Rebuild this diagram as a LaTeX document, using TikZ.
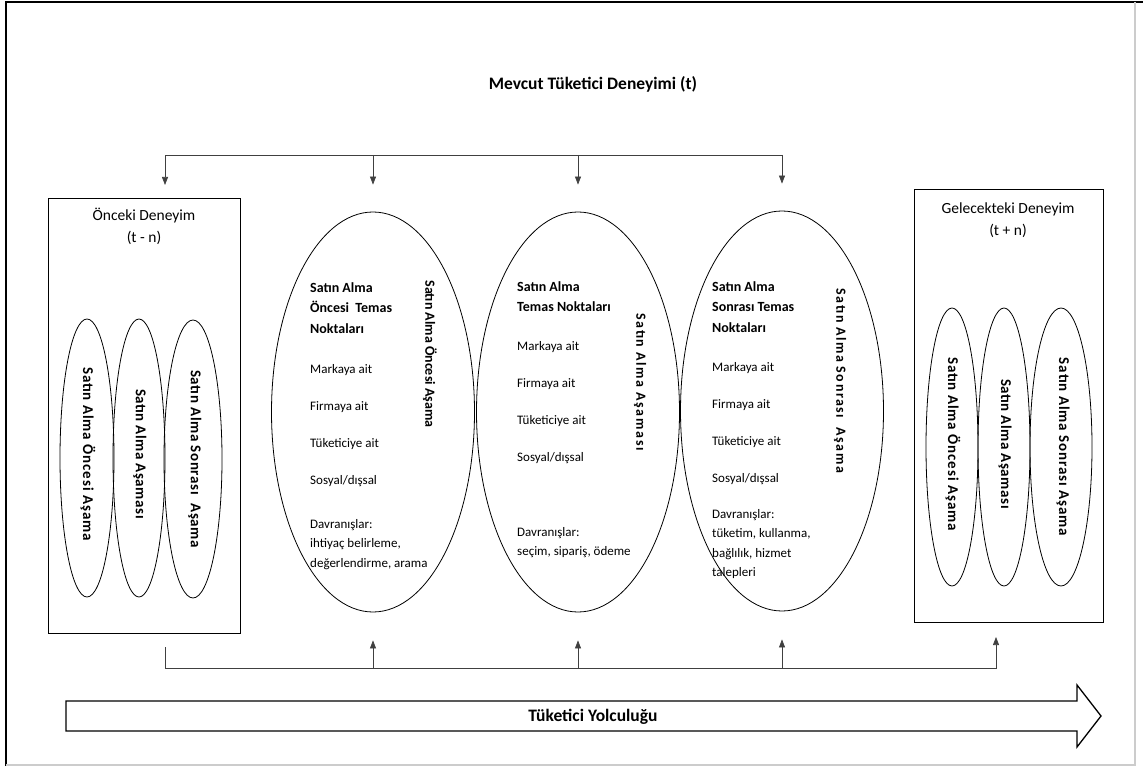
\documentclass[tikz,border=0pt]{standalone}
\usepackage{fontspec}
\setmainfont{Carlito}
\usetikzlibrary{shapes, arrows.meta}

\begin{document}
\begin{tikzpicture}[x=1pt,y=-1pt,
    el/.style={draw, ellipse, line width=0.8pt, inner sep=0pt},
    big/.style={el, minimum width=203pt, minimum height=400pt},
    sm/.style={el, minimum height=278pt},
    bx/.style={draw, line width=1.1pt, anchor=north west, inner sep=0pt},
    bt/.style={font=\fontsize{15.5}{22}\selectfont, align=center},
    tt/.style={font=\fontsize{17.5}{20}\selectfont\bfseries, inner sep=0pt},
    hd/.style={font=\fontsize{14}{20.5}\selectfont\bfseries, align=left, anchor=north west, inner sep=0pt},
    ls/.style={font=\fontsize{13}{37}\selectfont, align=left, anchor=north west, inner sep=0pt},
    bh/.style={font=\fontsize{13}{19.5}\selectfont, align=left, anchor=north west, inner sep=0pt},
    vt/.style={font=\fontsize{14}{16}\selectfont\bfseries, rotate=-90, inner sep=0pt},
    vs/.style={vt, font=\fontsize{15}{16}\selectfont\bfseries},
    ar/.style={-{Triangle[width=6pt,length=8pt]}, line width=0.7pt, black!75}]
    \useasboundingbox (0,0) rectangle (1143,767);
    \draw[line width=2pt] (6,766) -- (6,2) -- (1143,2);
    \draw[black!20, line width=1.5pt] (1135,2) -- (1135,765) -- (6,765);

    \node[tt] (ttl) at (593,84) {Mevcut Tüketici Deneyimi (t)};

    \node[bx, minimum width=192pt, minimum height=435pt] (pre) at (48,198) {};
    \node[bt] (pret) at (144,226) {Önceki Deneyim\\(t - n)};
    \node[sm, minimum width=54pt] (p1) at (87,458) {};
    \node[sm, minimum width=52pt] (p2) at (139,458) {};
    \node[sm, minimum width=58pt] (p3) at (193,459) {};
    \node[vs] (p1t) at (88,454) {\addfontfeatures{LetterSpace=6}Satın Alma Öncesi Aşama};
    \node[vs] (p2t) at (140,454) {\addfontfeatures{LetterSpace=3.5}Satın Alma Aşaması};
    \node[vs] (p3t) at (195,459) {\addfontfeatures{LetterSpace=4.5}Satın Alma Sonrası\ \ Aşama};

    \node[bx, minimum width=189pt, minimum height=433pt] (fut) at (914,189) {};
    \node[bt] (futt) at (1008,220) {Gelecekteki Deneyim\\(t + n)};
    \node[sm, minimum width=52pt] (f1) at (952,447) {};
    \node[sm, minimum width=52pt] (f2) at (1004,447) {};
    \node[sm, minimum width=62pt] (f3) at (1061,447) {};
    \node[vs] (f1t) at (953,444) {\addfontfeatures{LetterSpace=6}Satın Alma Öncesi Aşama};
    \node[vs] (f2t) at (1005,444) {\addfontfeatures{LetterSpace=3.5}Satın Alma Aşaması};
    \node[vs] (f3t) at (1063,447) {\addfontfeatures{LetterSpace=6}Satın Alma Sonrası Aşama};

    \node[big] (e1) at (373,412) {};
    \node[big] (e2) at (578,412) {};
    \node[big] (e3) at (782,411) {};

    \node[hd] (e1h) at (310,282) {Satın Alma\\Öncesi\ \ Temas\\Noktaları};
    \node[ls] (e1l) at (310,364) {Markaya ait\\Firmaya ait\\Tüketiciye ait\\Sosyal/dışsal};
    \node[bh] (e1b) at (310,519) {Davranışlar:\\ihtiyaç belirleme,\\değerlendirme, arama};
    \node[vt] (e1v) at (430,354) {Satın Alma Öncesi Aşama};

    \node[hd] (e2h) at (517,281) {Satın Alma\\Temas Noktaları};
    \node[ls] (e2l) at (517,341) {Markaya ait\\Firmaya ait\\Tüketiciye ait\\Sosyal/dışsal};
    \node[bh] (e2b) at (517,527) {Davranışlar:\\seçim, sipariş, ödeme};
    \node[vt] (e2v) at (640,382) {\addfontfeatures{LetterSpace=12}Satın Alma Aşaması};

    \node[hd] (e3h) at (712,281) {Satın Alma\\Sonrası Temas\\Noktaları};
    \node[ls] (e3l) at (712,362) {Markaya ait\\Firmaya ait\\Tüketiciye ait\\Sosyal/dışsal};
    \node[bh] (e3b) at (712,509) {Davranışlar:\\tüketim, kullanma,\\bağlılık, hizmet\\talepleri};
    \node[vt] (e3v) at (840,381) {\addfontfeatures{LetterSpace=11}Satın Alma Sonrası\ \ Aşama};

    \coordinate (t0) at (165,155);
    \coordinate (u0) at (165,185);
    \coordinate (t3) at (e3.north |- t0);
    \draw[ar] (t3) -- (t0) -- (u0);
    \draw[ar] (e1.north |- t0) -- ([yshift=27pt]e1.north);
    \draw[ar] (e2.north |- t0) -- ([yshift=27pt]e2.north);
    \draw[ar] (t3) -- ([yshift=27pt]e3.north);

    \coordinate (s0) at (165,647);
    \coordinate (bl) at (165,668);
    \coordinate (br) at (996,668);
    \coordinate (s4) at (996,637);
    \draw[ar] (s0) -- (bl) -- (br) -- (s4);
    \draw[ar] (e1.south |- bl) -- ([yshift=-28pt]e1.south);
    \draw[ar] (e2.south |- bl) -- ([yshift=-28pt]e2.south);
    \draw[ar] (e3.south |- bl) -- ([yshift=-28pt]e3.south);

    \draw[line width=1.3pt] (66,701) -- (1077,701) -- (1077,685) -- (1101,716)
        -- (1077,747) -- (1077,731) -- (66,731) -- cycle;
    \node[tt] (trip) at (593,717) {Tüketici Yolculuğu};
\end{tikzpicture}
\end{document}
